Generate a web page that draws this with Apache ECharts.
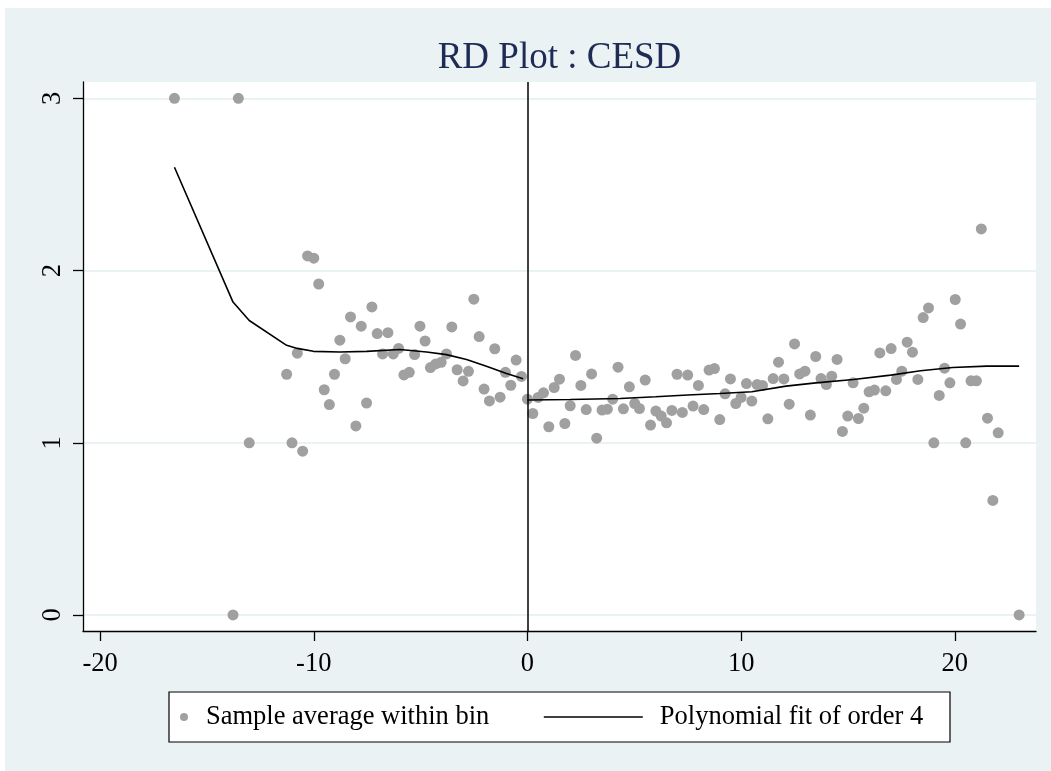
<!DOCTYPE html>
<html>
<head>
<meta charset="utf-8">
<title>RD Plot : CESD</title>
<script src="https://cdn.jsdelivr.net/npm/echarts@6.0.0/dist/echarts.min.js"></script>
<style>
    html, body { margin: 0; padding: 0; background: #fff; }
    #chart { position: absolute; left: 5px; top: 8px; width: 1046px; height: 763px; }
</style>
</head>
<body>
<div id="chart"></div>
<script>
// bin averages, left of the cutoff
var leftBinX = [-16.52, -13.78, -13.53, -13.02, -11.27, -11.02, -10.77, -10.52, -10.29, -10.0,
    -9.77, -9.51, -9.27, -9.03, -8.78, -8.53, -8.28, -8.03, -7.78, -7.53,
    -7.28, -7.03, -6.78, -6.53, -6.28, -6.03, -5.78, -5.53, -5.28, -5.03,
    -4.79, -4.54, -4.29, -4.04, -3.79, -3.54, -3.29, -3.01, -2.76, -2.51,
    -2.26, -2.03, -1.78, -1.53, -1.28, -1.03, -0.78, -0.53, -0.28];
var leftBinY = [3.00, 0.00, 3.00, 1.00, 1.398, 1.00, 1.52, 0.951, 2.085, 2.072,
    1.922, 1.308, 1.222, 1.398, 1.596, 1.488, 1.731, 1.098, 1.677, 1.231,
    1.789, 1.634, 1.516, 1.639, 1.516, 1.548, 1.394, 1.409, 1.512, 1.677,
    1.591, 1.437, 1.458, 1.467, 1.516, 1.673, 1.424, 1.359, 1.415, 1.834,
    1.617, 1.312, 1.243, 1.546, 1.265, 1.409, 1.334, 1.480, 1.385];

// bin averages, right of the cutoff
var rightBinX = [0.00, 0.25, 0.50, 0.75, 1.00, 1.25, 1.50, 1.75, 2.00, 2.25, 2.50, 2.75, 3.00,
    3.24, 3.49, 3.74, 3.99, 4.24, 4.49, 4.77, 5.02,
    5.24, 5.51, 5.76, 6.01, 6.26, 6.51, 6.76,
    7.00, 7.25, 7.50, 7.75, 8.00, 8.25, 8.50, 8.75, 9.00, 9.25, 9.50, 9.75, 10.00, 10.25,
    10.50, 10.75, 11.00, 11.25, 11.50, 11.75, 12.00, 12.25, 12.50,
    12.74, 12.99, 13.24, 13.49, 13.74, 13.99, 14.24, 14.49, 14.74, 14.99, 15.24, 15.49,
    15.74, 15.99, 16.24, 16.49,
    16.77, 17.02, 17.27, 17.52, 17.77, 18.02, 18.27, 18.52, 18.77, 19.02, 19.27, 19.52,
    19.77, 20.02, 20.27, 20.51, 20.76, 21.01,
    21.24, 21.53, 21.78, 22.03, 23.01];
var rightBinY = [1.253, 1.170, 1.263, 1.290, 1.093, 1.321, 1.369, 1.112, 1.215, 1.507, 1.333, 1.193, 1.400,
    1.027, 1.190, 1.195, 1.253, 1.439, 1.197, 1.325, 1.228,
    1.199, 1.364, 1.103, 1.184, 1.155, 1.116, 1.188,
    1.398, 1.176, 1.393, 1.213, 1.333, 1.193, 1.422, 1.431, 1.135, 1.284, 1.371, 1.228, 1.263, 1.344,
    1.242, 1.338, 1.333, 1.139, 1.373, 1.468, 1.371, 1.224, 1.574,
    1.400, 1.416, 1.161, 1.501, 1.373, 1.338, 1.387, 1.484, 1.066, 1.155, 1.348, 1.141,
    1.201, 1.296, 1.306, 1.522,
    1.302, 1.547, 1.368, 1.416, 1.584, 1.526, 1.368, 1.727, 1.783, 1.000, 1.275, 1.433,
    1.348, 1.832, 1.689, 1.000, 1.360, 1.360,
    2.242, 1.143, 0.665, 1.058, 0.000];

// polynomial fit (order 4)
var fitLeftX = [-16.52, -13.78, -13.02, -11.27, -10.77, -10.02, -8.78, -7.53, -5.97, -4.72, -3.79, -2.85, -1.92, -0.98, -0.20];
var fitLeftY = [2.600, 1.817, 1.710, 1.566, 1.548, 1.531, 1.527, 1.531, 1.542, 1.527, 1.512, 1.484, 1.445, 1.402, 1.372];
var fitRightX = [0.00, 2.00, 4.34, 6.00, 7.50, 9.00, 10.50, 12.10, 13.50, 15.26, 17.00, 18.40, 19.90, 21.50, 23.01];
var fitRightY = [1.248, 1.251, 1.257, 1.267, 1.277, 1.286, 1.296, 1.329, 1.348, 1.367, 1.393, 1.418, 1.437, 1.445, 1.445];

var xTicks = [-20, -10, 0, 10, 20];
var yTicks = [0, 1, 2, 3];

var FONT = 'Liberation Serif';

function zip(xs, ys) {
    return xs.map(function (x, i) { return [x, ys[i]]; });
}

var binData = zip(leftBinX, leftBinY).concat(zip(rightBinX, rightBinY));
var fitData = zip(fitLeftX, fitLeftY).concat([[0, '-']], zip(fitRightX, fitRightY));

var myChart = echarts.init(document.getElementById('chart'));
myChart.setOption({
    animation: false,
    backgroundColor: '#eaf2f3',
    title: {
        text: 'RD Plot : CESD',
        left: 554.5,
        top: 32,
        textAlign: 'center',
        padding: 0,
        textStyle: {color: '#1d2b55', fontSize: 37, fontWeight: 'normal', fontFamily: FONT}
    },
    grid: {
        left: 78,
        top: 74,
        right: 15,
        bottom: 140,
        show: true,
        backgroundColor: '#fff',
        borderWidth: 0
    },
    graphic: [{
        type: 'rect',
        z: 1,
        shape: {x: 164, y: 684, width: 781, height: 50},
        style: {fill: '#fff', stroke: '#000', lineWidth: 1.2}
    }],
    legend: [{
        data: ['Sample average within bin'],
        left: 175,
        top: 694,
        padding: 0,
        icon: 'circle',
        itemWidth: 8,
        itemHeight: 8,
        selectedMode: false,
        textStyle: {color: '#000', fontSize: 26.5, fontFamily: FONT, lineHeight: 30, padding: [0, 0, 0, 13]}
    }, {
        data: ['Polynomial fit of order 4'],
        left: 538,
        top: 694,
        padding: 0,
        itemWidth: 99,
        itemHeight: 8,
        selectedMode: false,
        itemStyle: {opacity: 0},
        lineStyle: {color: '#000', width: 1.6, opacity: 1},
        textStyle: {color: '#000', fontSize: 26.5, fontFamily: FONT, lineHeight: 30, padding: [0, 0, 0, 12]}
    }],
    xAxis: {
        type: 'value',
        min: -20.8,
        max: 23.8,
        axisLine: {onZero: false, lineStyle: {color: '#000', width: 1.3}},
        axisTick: {customValues: xTicks, length: 10, lineStyle: {color: '#000', width: 1.3}},
        axisLabel: {customValues: xTicks, margin: 20, color: '#000', fontSize: 26.5, fontFamily: FONT},
        splitLine: {show: false}
    },
    yAxis: {
        type: 'value',
        min: -0.093,
        max: 3.095,
        axisLine: {show: true, onZero: false, lineStyle: {color: '#000', width: 1.3}},
        axisTick: {show: true, customValues: yTicks, length: 10, lineStyle: {color: '#000', width: 1.3}},
        axisLabel: {customValues: yTicks, rotate: 90, margin: 16, color: '#000', fontSize: 26.5, fontFamily: FONT},
        splitLine: {show: true, lineStyle: {color: '#eaf2f3', width: 2}}
    },
    series: [{
        name: 'Sample average within bin',
        type: 'scatter',
        symbol: 'circle',
        symbolSize: 11,
        itemStyle: {color: '#a0a0a0', opacity: 1},
        data: binData,
        z: 2,
        markLine: {
            silent: true,
            symbol: ['none', 'none'],
            label: {show: false},
            lineStyle: {color: '#000', width: 1.5, type: 'solid'},
            data: [{xAxis: 0}]
        }
    }, {
        name: 'Polynomial fit of order 4',
        type: 'line',
        symbol: 'none',
        showSymbol: false,
        connectNulls: false,
        lineStyle: {color: '#000', width: 1.6},
        itemStyle: {color: '#000'},
        data: fitData,
        z: 3
    }]
});
</script>
</body>
</html>
